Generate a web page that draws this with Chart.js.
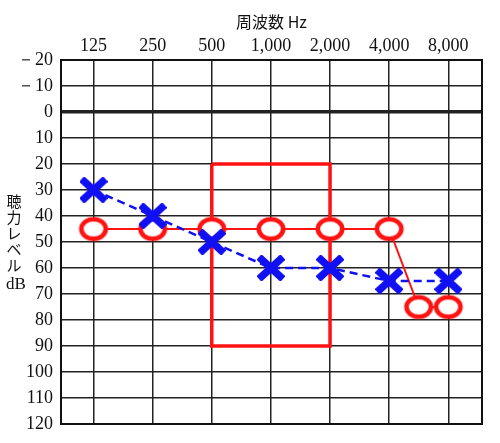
<!DOCTYPE html>
<html><head><meta charset="utf-8">
<script src="https://cdn.jsdelivr.net/npm/chart.js@4"></script>
<style>html,body{margin:0;padding:0;background:#fff}#wrap{width:500px;height:443px}</style>
</head><body><div id="wrap"><canvas id="c" width="500" height="443"></canvas></div>
<script>
// Frequency categories (top axis)
const freqLabels = ['125','250','500','1,000','2,000','4,000','8,000'];
// Blue X (dashed) series: position index and level dB
const crossPos = [0,1,2,3,4,5,6];
const crossLevels = [30,40,50,60,60,65,65];
// Red circle series
const circlePos = [0,1,2,3,4,5,5.5,6];
const circleLevels = [45,45,45,45,45,45,75,75];
// Red rectangle (frequency index range, dB range)
const rectPos = [2,4];
const rectLevels = [20,90];
// Y-axis title characters
const yTitle = ['聴','力','レ','ベ','ル','dB'];

const RED = '#ff1212';
const BLUE = '#1010f2';

function makeCircle(){
  const c = document.createElement('canvas');
  c.width = 32; c.height = 27;
  const g = c.getContext('2d');
  g.fillStyle = '#fff'; g.strokeStyle = RED; g.lineWidth = 4.6;
  g.beginPath(); g.ellipse(16,13.5,12.2,9.8,0,0,Math.PI*2); g.fill(); g.stroke();
  return c;
}
function makeCross(){
  const c = document.createElement('canvas');
  c.width = 28; c.height = 26;
  const g = c.getContext('2d');
  g.strokeStyle = BLUE; g.lineWidth = 7.5; g.lineCap = 'butt';
  g.beginPath(); g.moveTo(2,2); g.lineTo(26,24); g.moveTo(26,2); g.lineTo(2,24); g.stroke();
  return c;
}

const rectData = [
  {x:rectPos[0], y:rectLevels[0]},{x:rectPos[1], y:rectLevels[0]},
  {x:rectPos[1], y:rectLevels[1]},{x:rectPos[0], y:rectLevels[1]},
  {x:rectPos[0], y:rectLevels[0]}
];

const framePlugin = {
  id:'frame',
  afterDraw(chart){
    const {ctx, chartArea:a} = chart;
    ctx.save();
    ctx.strokeStyle = '#111'; ctx.lineWidth = 2;
    ctx.strokeRect(a.left, a.top, a.right-a.left, a.bottom-a.top);
    ctx.fillStyle = '#111';
    ctx.textAlign = 'center'; ctx.textBaseline = 'middle';
    yTitle.forEach((t,i)=>{
      ctx.font = (t==='dB') ? '17px "Liberation Serif"' : '15px "Noto Sans CJK JP"';
      ctx.fillText(t, t==='dB' ? 16 : 14, 201 + i*16 + (t==='dB' ? 4 : 0));
    });
    ctx.restore();
  }
};

new Chart(document.getElementById('c'), {
  type:'scatter',
  data:{datasets:[
    {data:rectData, showLine:true, borderColor:RED, borderWidth:3.5, pointRadius:0, fill:false, order:3},
    {data:circlePos.map((x,i)=>({x, y:circleLevels[i]})), showLine:true, borderColor:RED, borderWidth:2,
      pointStyle:makeCircle(), pointRadius:12, order:2},
    {data:crossPos.map((x,i)=>({x, y:crossLevels[i]})), showLine:true, borderColor:BLUE, borderWidth:2.5,
      borderDash:[8,5], pointStyle:makeCross(), pointRadius:12, order:1}
  ]},
  options:{
    responsive:false, animation:false, events:[],
    layout:{padding:{left:0,right:18,top:0,bottom:19}},
    plugins:{legend:{display:false}, tooltip:{enabled:false}},
    scales:{
      x:{type:'linear', position:'top', min:-0.55, max:6.57,
        afterBuildTicks:s=>{ s.ticks = freqLabels.map((_,i)=>({value:i})); },
        afterFit:s=>{ s.height = 60; },
        ticks:{callback:v=>freqLabels[v], color:'#111', font:{family:'"Liberation Serif"', size:18}, padding:3, maxRotation:0, autoSkip:false},
        grid:{color:'#222', lineWidth:1.5, drawTicks:false},
        border:{display:true, color:'#111', width:2},
        title:{display:true, text:'周波数 Hz', color:'#111', font:{family:'"Noto Sans CJK JP"', size:16}, padding:{top:12,bottom:0}}
      },
      y:{type:'linear', reverse:true, min:-20, max:120,
        afterFit:s=>{ s.width = 61; },
        ticks:{stepSize:10, color:'#111', font:{family:'"Liberation Serif"', size:18}, padding:8,
          callback:v=> v<0 ? '－'+(-v) : String(v)},
        grid:{color:'#222', lineWidth:ctx=> ctx.tick && ctx.tick.value===0 ? 3.5 : 1.5, drawTicks:false},
        border:{display:true, color:'#111', width:2}
      }
    }
  },
  plugins:[framePlugin]
});
</script></body></html>
